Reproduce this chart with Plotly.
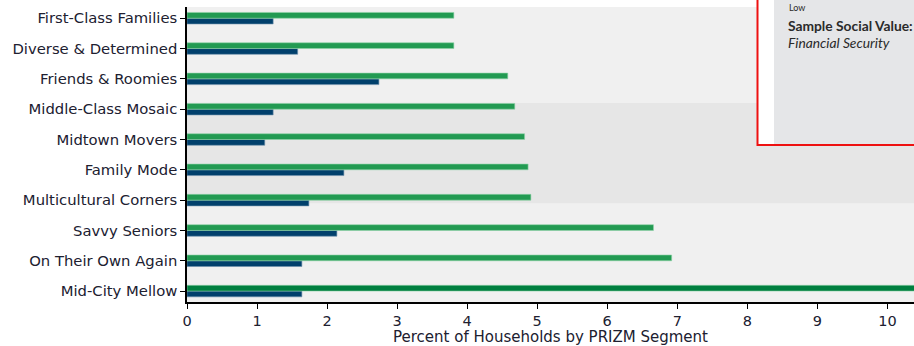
import plotly.graph_objects as go

categories = ["First-Class Families", "Diverse & Determined", "Friends & Roomies",
              "Middle-Class Mosaic", "Midtown Movers", "Family Mode",
              "Multicultural Corners", "Savvy Seniors", "On Their Own Again",
              "Mid-City Mellow"]
green_vals = [3.81, 3.81, 4.58, 4.68, 4.82, 4.87, 4.91, 6.66, 6.92, 13.5]
blue_vals = [1.23, 1.58, 2.74, 1.23, 1.11, 2.24, 1.74, 2.14, 1.64, 1.64]
x_ticks = list(range(0, 11))

order = categories[::-1]
green_colors = ["#007f3f" if c == "Mid-City Mellow" else "#229a52" for c in categories]

fig = go.Figure()
fig.add_trace(go.Bar(y=categories, x=blue_vals, orientation="h",
                     marker=dict(color="#01406c", line=dict(color="#6b8fab", width=0.6)),
                     name="blue", showlegend=False))
fig.add_trace(go.Bar(y=categories, x=green_vals, orientation="h",
                     marker=dict(color=green_colors, line=dict(color="#8fd3a8", width=0.6)),
                     name="green", showlegend=False))

W, H = 914, 346
L, R, T, B = 187, 0, 7, 44
pw, ph = W - L - R, H - T - B

def px(x):
    return (x - L) / pw

def py(y):
    return (H - B - y) / ph

shapes = [
    dict(type="rect", xref="paper", yref="y", x0=0, x1=1.02, y0=2.9, y1=6.2,
         fillcolor="#e6e6e6", line=dict(width=0), layer="below"),
    dict(type="rect", xref="paper", yref="paper", x0=px(757.5), x1=px(930),
         y0=py(145), y1=py(-10), fillcolor="#ffffff",
         line=dict(color="#ee1111", width=2), layer="above"),
    dict(type="rect", xref="paper", yref="paper", x0=px(774), x1=px(930),
         y0=py(144), y1=py(-10), fillcolor="#e5e6e8",
         line=dict(width=0), layer="above"),
]

box_font = dict(family="Lato", size=13.8, color="#2a2a2a")
annotations = [
    dict(xref="paper", yref="paper", x=px(787), y=py(0), text="Low",
         showarrow=False, xanchor="left", yanchor="top",
         font=dict(family="Lato", size=9, color="#2a2a2a")),
    dict(xref="paper", yref="paper", x=px(786), y=py(25), text="<b>Sample Social Value:</b>",
         showarrow=False, xanchor="left", yanchor="middle", font=box_font),
    dict(xref="paper", yref="paper", x=px(786), y=py(42), text="<i>Financial Security</i>",
         showarrow=False, xanchor="left", yanchor="middle", font=box_font),
]

fig.update_layout(
    width=W, height=H,
    margin=dict(l=L, r=R, t=T, b=B, pad=0),
    paper_bgcolor="#ffffff", plot_bgcolor="#f0f0f0",
    barmode="group", bargap=0.62, bargroupgap=0,
    shapes=shapes, annotations=annotations,
    font=dict(family="DejaVu Sans", size=15, color="#202030"),
)
fig.update_xaxes(range=[0, 10.38], tickvals=x_ticks, ticks="outside", ticklen=5,
                 tickcolor="#000", showline=True, linecolor="#000", linewidth=1.5,
                 showgrid=False, zeroline=False,
                 title=dict(text="Percent of Households by PRIZM Segment",
                            font=dict(size=15), standoff=0),
                 tickfont=dict(size=14.5))
fig.update_yaxes(categoryorder="array", categoryarray=order, range=[-0.36, 9.37],
                 ticks="outside", ticklen=5, tickcolor="#000", showline=True,
                 linecolor="#000", linewidth=1.5, showgrid=False, zeroline=False,
                 tickfont=dict(size=14.8))

fig.write_html("out.html")
